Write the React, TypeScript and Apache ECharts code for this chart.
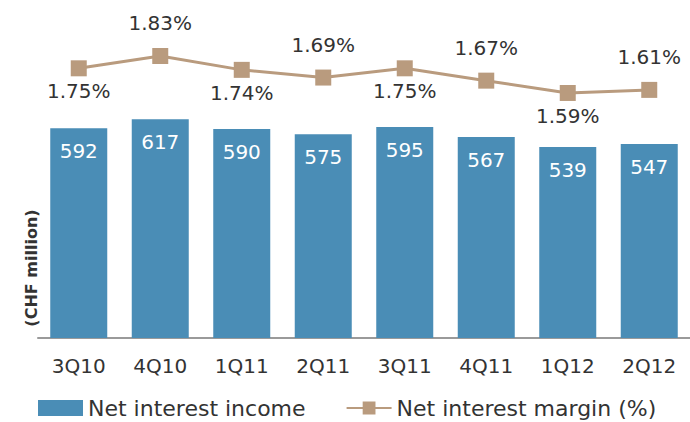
import React, { useEffect, useRef } from "react";
import * as echarts from "echarts";

const categories = ["3Q10", "4Q10", "1Q11", "2Q11", "3Q11", "4Q11", "1Q12", "2Q12"];
const netInterestIncome = [592, 617, 590, 575, 595, 567, 539, 547];
const netInterestMargin = [1.75, 1.83, 1.74, 1.69, 1.75, 1.67, 1.59, 1.61];
const marginLabelAbove = [false, true, false, true, false, true, false, true];
const yAxisTitle = "(CHF million)";

const FONT = "'DejaVu Sans', 'Open Sans', sans-serif";
const BAR_COLOR = "#4a8db6";
const LINE_COLOR = "#b99b7e";
const TEXT_COLOR = "#333333";

export default function App() {
  const ref = useRef<HTMLDivElement>(null);
  useEffect(() => {
    document.body.style.margin = "0";
    if (!ref.current) return;
    const chart = echarts.init(ref.current, undefined, { renderer: "svg" });
    chart.setOption({
      animation: false,
      textStyle: { fontFamily: FONT },
      grid: { left: 38, right: -5, top: 19, bottom: 84, containLabel: false },
      legend: {
        left: 38,
        top: 397,
        padding: 0,
        itemWidth: 45,
        itemHeight: 16,
        itemGap: 40,
        textStyle: { fontSize: 22, color: TEXT_COLOR, fontFamily: FONT },
        data: [
          { name: "Net interest income", icon: "rect" },
          { name: "Net interest margin (%)" },
        ],
      },
      graphic: [
        {
          type: "text",
          x: 31,
          y: 268,
          rotation: Math.PI / 2,
          style: {
            text: yAxisTitle,
            fontSize: 16,
            fontWeight: "bold",
            fontFamily: FONT,
            fill: TEXT_COLOR,
            align: "center",
            verticalAlign: "middle",
          },
        },
      ],
      xAxis: {
        type: "category",
        data: categories,
        axisLine: { lineStyle: { color: "#9a9a9a", width: 2 } },
        axisTick: { show: false },
        axisLabel: { color: TEXT_COLOR, fontSize: 20, margin: 18, fontFamily: FONT },
      },
      yAxis: [
        {
          type: "value",
          min: 0,
          max: 900,
          axisLine: { show: false },
          axisTick: { show: false },
          axisLabel: { show: false },
          splitLine: { show: false },
        },
        {
          type: "value",
          min: 0,
          max: 2.07,
          axisLine: { show: false },
          axisTick: { show: false },
          axisLabel: { show: false },
          splitLine: { show: false },
        },
      ],
      series: [
        {
          name: "Net interest income",
          type: "bar",
          data: netInterestIncome,
          barWidth: 57,
          itemStyle: { color: BAR_COLOR },
          label: {
            show: true,
            position: "insideTop",
            distance: 13,
            color: "#ffffff",
            fontSize: 20,
            fontFamily: FONT,
          },
        },
        {
          name: "Net interest margin (%)",
          type: "line",
          yAxisIndex: 1,
          data: netInterestMargin.map((v, i) => ({
            value: v,
            label: {
              position: marginLabelAbove[i] ? "top" : "bottom",
              distance: marginLabelAbove[i] ? 15 : 5,
            },
          })),
          symbol: "rect",
          symbolSize: 16,
          lineStyle: { color: LINE_COLOR, width: 3 },
          itemStyle: { color: LINE_COLOR },
          label: {
            show: true,
            color: TEXT_COLOR,
            fontSize: 20,
            fontFamily: FONT,
            formatter: (p: any) => p.value.toFixed(2) + "%",
          },
        },
      ],
    });
    return () => chart.dispose();
  }, []);
  return <div ref={ref} style={{ width: 690, height: 422 }} />;
}
